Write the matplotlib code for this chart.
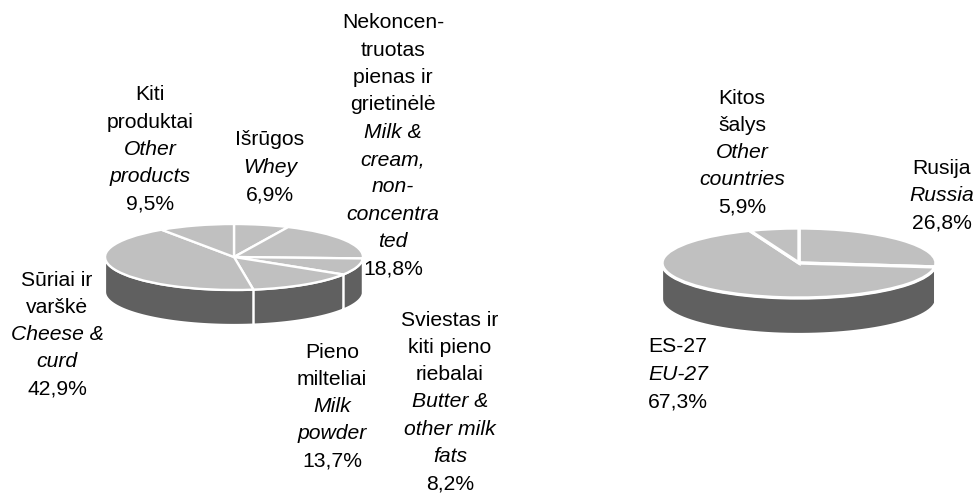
import matplotlib
matplotlib.use("Agg")
import matplotlib.pyplot as plt
from matplotlib.patches import Polygon
import numpy as np

plt.rcParams['font.family'] = ['Liberation Sans', 'DejaVu Sans']

W, H = 976, 493

products = [6.9, 18.8, 8.2, 13.7, 42.9, 9.5]
countries = [26.8, 67.3, 5.9]

# x centre, y of first line, text lines, which lines are italic
product_labels = [
    (270, 140, ["Išrūgos", "Whey", "6,9%"], [0, 1, 0]),
    (393, 23, ["Nekoncen-", "truotas", "pienas ir", "grietinėlė", "Milk &", "cream,", "non-",
               "concentra", "ted", "18,8%"], [0, 0, 0, 0, 1, 1, 1, 1, 1, 0]),
    (450, 320, ["Sviestas ir", "kiti pieno", "riebalai", "Butter &", "other milk", "fats", "8,2%"],
     [0, 0, 0, 1, 1, 1, 0]),
    (332, 352, ["Pieno", "milteliai", "Milk", "powder", "13,7%"], [0, 0, 1, 1, 0]),
    (57, 280, ["Sūriai ir", "varškė", "Cheese &", "curd", "42,9%"], [0, 0, 1, 1, 0]),
    (150, 95, ["Kiti", "produktai", "Other", "products", "9,5%"], [0, 0, 1, 1, 0]),
]
country_labels = [
    (942, 168, ["Rusija", "Russia", "26,8%"], [0, 1, 0]),
    (678, 347, ["ES-27", "EU-27", "67,3%"], [0, 1, 0]),
    (742, 98, ["Kitos", "šalys", "Other", "countries", "5,9%"], [0, 0, 1, 1, 0]),
]


def pie_3d(values, cx, cy, a, b, depth, lw):
    ax = fig.add_axes([(cx - a) / W, 1 - (cy + b) / H, 2 * a / W, 2 * b / H])
    ax.pie(values, startangle=90, counterclock=False, radius=1, colors=["#c0c0c0"] * len(values),
           wedgeprops=dict(edgecolor="white", linewidth=lw, clip_on=False))
    ax.set_aspect("auto")
    ax.set_xlim(-1, 1)
    ax.set_ylim(-1, 1)
    ax.patch.set_visible(False)

    # side wall, only the front half shows
    d = depth / b
    edges = 90 - np.cumsum([0] + values) * 3.6
    for start, end in zip(edges[:-1], edges[1:]):
        hi = min(start, 0)
        lo = max(end, -180)
        if lo >= hi:
            continue
        t = np.radians(np.linspace(lo, hi, 60))
        x, y = np.cos(t), np.sin(t)
        pts = np.r_[np.c_[x, y], np.c_[x[::-1], y[::-1] - d]]
        ax.add_patch(Polygon(pts, closed=True, facecolor="#606060", edgecolor="white",
                             linewidth=1.6, clip_on=False, zorder=0))


def draw_labels(labels):
    for x, y, lines, italic in labels:
        for i, line in enumerate(lines):
            fig.text(x / W, 1 - (y + i * 27.3) / H, line, ha="center", va="center", fontsize=15.2,
                     style="italic" if italic[i] else "normal", color="black")


fig = plt.figure(figsize=(W / 100, H / 100), dpi=100)
pie_3d(products, 234, 257, 129, 33, 35, 1.7)
pie_3d(countries, 799, 263, 137, 35, 36, 2.4)
draw_labels(product_labels)
draw_labels(country_labels)
fig.savefig("out.png", dpi=100)
